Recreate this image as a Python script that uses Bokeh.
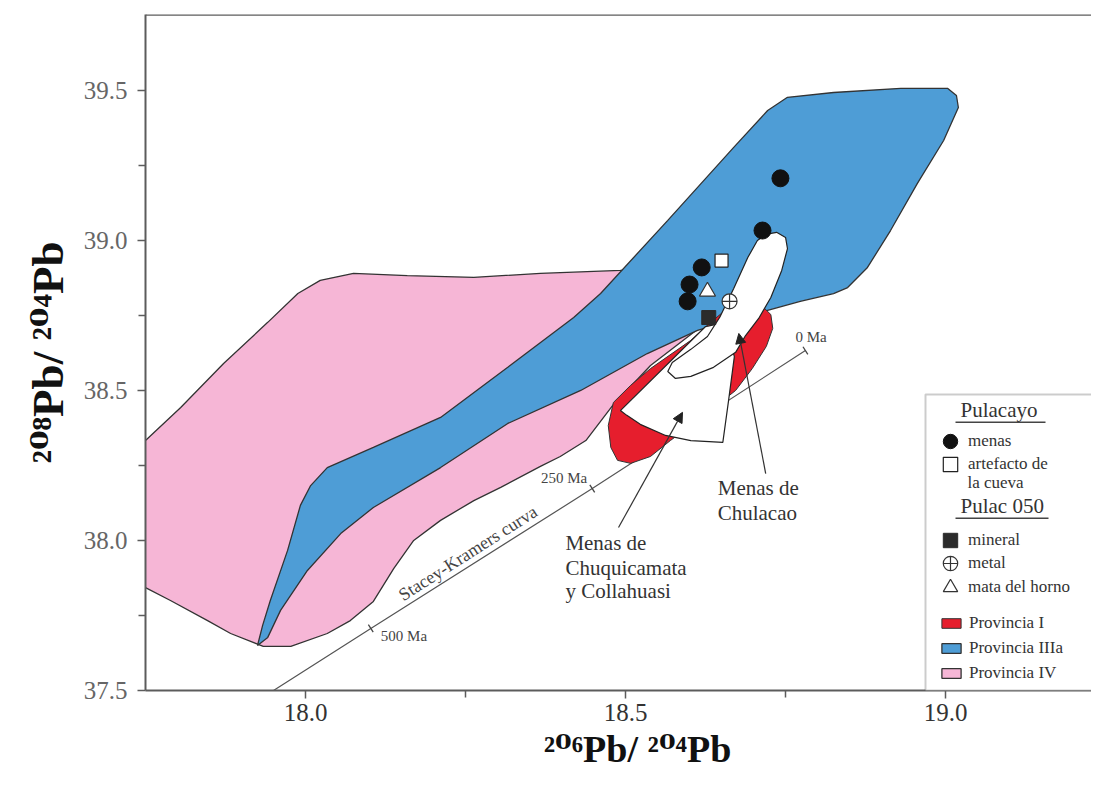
import math
from bokeh.plotting import figure
from bokeh.models import (Range1d, FixedTicker, NumeralTickFormatter, Label, Legend,
                          LegendItem, BoxAnnotation, Arrow, NormalHead, Span)
from bokeh.embed import file_html
from bokeh.resources import INLINE

# ---------------- data ----------------
X_RANGE = (17.75, 19.228)
Y_RANGE = (37.5, 39.753)
X_TICKS = [18.0, 18.5, 19.0]
X_MINOR = [18.25, 18.75]
Y_TICKS = [37.5, 38.0, 38.5, 39.0, 39.5]
Y_MINOR = [37.75, 38.25, 38.75, 39.25]
X_TITLE = "²⁰⁶Pb/ ²⁰⁴Pb"
Y_TITLE = "²⁰⁸Pb/ ²⁰⁴Pb"

# Provincia IV (pink field)
PROV_IV_X = [17.727, 17.750, 17.805, 17.872, 17.941, 17.988, 18.023, 18.075, 18.159, 18.263,
             18.367, 18.492, 18.555, 18.625, 18.606, 18.539, 18.480, 18.438, 18.398, 18.367,
             18.305, 18.263, 18.211, 18.169, 18.138, 18.106, 18.070, 18.034, 17.977, 17.934,
             17.883, 17.847, 17.789, 17.750, 17.727]
PROV_IV_Y = [38.293, 38.333, 38.443, 38.590, 38.727, 38.823, 38.867, 38.890, 38.883, 38.877,
             38.890, 38.900, 38.907, 38.727, 38.693, 38.583, 38.450, 38.333, 38.280, 38.247,
             38.177, 38.133, 38.067, 38.000, 37.907, 37.797, 37.733, 37.690, 37.647, 37.647,
             37.690, 37.733, 37.800, 37.843, 37.867]

# Provincia IIIa (blue field)
PROV_IIIA_X = [17.925, 17.933, 17.945, 17.972, 17.992, 18.008, 18.034, 18.106, 18.211, 18.316,
               18.419, 18.461, 18.566, 18.669, 18.722, 18.753, 18.825, 18.930, 19.003, 19.017,
               19.020, 18.997, 18.956, 18.914, 18.878, 18.847, 18.825, 18.773, 18.722, 18.664,
               18.6125, 18.534, 18.430, 18.316, 18.211, 18.106, 18.055, 18.003, 17.961, 17.941]
PROV_IIIA_Y = [37.650, 37.717, 37.800, 37.967, 38.117, 38.183, 38.243, 38.310, 38.410, 38.577,
               38.743, 38.823, 39.067, 39.310, 39.433, 39.477, 39.493, 39.507, 39.507, 39.483,
               39.443, 39.333, 39.190, 39.033, 38.910, 38.843, 38.823, 38.797, 38.767, 38.733,
               38.700, 38.623, 38.500, 38.390, 38.243, 38.110, 38.023, 37.900, 37.767, 37.677]

# Provincia I (red field)
PROV_I_X = [18.6875, 18.714, 18.727, 18.730, 18.720, 18.698, 18.672, 18.617, 18.570, 18.539,
            18.508, 18.4875, 18.477, 18.473, 18.481, 18.508, 18.539, 18.602, 18.633, 18.659]
PROV_I_Y = [38.790, 38.780, 38.753, 38.707, 38.647, 38.573, 38.500, 38.407, 38.333, 38.280,
            38.257, 38.267, 38.310, 38.383, 38.460, 38.517, 38.573, 38.667, 38.727, 38.773]

# Menas de Chuquicamata y Collahuasi (white field)
CHUQ_X = [18.492, 18.625, 18.656, 18.670, 18.661, 18.652, 18.602, 18.5625, 18.523, 18.502]
CHUQ_Y = [38.433, 38.713, 38.727, 38.613, 38.467, 38.327, 38.333, 38.350, 38.387, 38.417]

# Menas de Chulacao (white field)
CHUL_X = [18.706, 18.719, 18.736, 18.750, 18.753, 18.744, 18.727, 18.708, 18.6875, 18.672,
          18.6375, 18.602, 18.578, 18.566, 18.573, 18.602, 18.628, 18.648, 18.669, 18.691]
CHUL_Y = [39.000, 39.020, 39.027, 39.010, 38.973, 38.900, 38.810, 38.740, 38.683, 38.627,
          38.577, 38.547, 38.540, 38.563, 38.593, 38.637, 38.680, 38.747, 38.840, 38.943]

# Stacey-Kramers curve (start at axis, then 500, 250, 0 Ma)
SK_X = [17.950, 18.102, 18.448, 18.781]
SK_Y = [37.500, 37.707, 38.173, 38.633]
SK_AGE_X = [18.102, 18.448, 18.781]
SK_AGE_Y = [37.707, 38.173, 38.633]
SK_AGE_LABELS = ["500 Ma", "250 Ma", "0 Ma"]

# Pulacayo samples
MENAS_X = [18.742, 18.714, 18.619, 18.600, 18.597]
MENAS_Y = [39.207, 39.033, 38.910, 38.853, 38.797]
ARTEFACTO_X = [18.650]
ARTEFACTO_Y = [38.933]
# Pulac 050 samples
MINERAL_X = [18.630]
MINERAL_Y = [38.743]
METAL_X = [18.6625]
METAL_Y = [38.797]
MATA_X = [18.628]
MATA_Y = [38.830]

# annotation arrows (start x, start y, end x, end y)
ARROW_CHUQ = (18.489, 38.043, 18.589, 38.427)
ARROW_CHUL = (18.719, 38.223, 18.677, 38.690)
CHUQ_TEXT = ["Menas de", "Chuquicamata", "y Collahuasi"]
CHUQ_TEXT_X = 18.406
CHUQ_TEXT_Y = [37.967, 37.883, 37.807]
CHUL_TEXT = ["Menas de", "Chulacao"]
CHUL_TEXT_X = 18.644
CHUL_TEXT_Y = [38.150, 38.067]
SK_TEXT_X = 18.263

# ---------------- layout ----------------
W, H = 1091, 782
BL, BR, BT, BB = 145, 0, 14, 92
FRAME_W = W - BL - BR
FRAME_H = H - BT - BB
PPU_X = FRAME_W / (X_RANGE[1] - X_RANGE[0])
PPU_Y = FRAME_H / (Y_RANGE[1] - Y_RANGE[0])

SERIF = "Liberation Serif"
TITLE_FONT = "Liberation Serif, DejaVu Serif"
AXC = "#5c5c5c"
TXT = "#333333"
LIFT = 0.37  # label baseline correction, in em

p = figure(width=W, height=H, output_backend="svg", toolbar_location=None,
           x_range=Range1d(*X_RANGE), y_range=Range1d(*Y_RANGE),
           min_border_left=BL, min_border_right=BR, min_border_top=BT, min_border_bottom=BB,
           background_fill_color="white", border_fill_color="white", outline_line_color=None)
p.grid.visible = False

p.xaxis.ticker = FixedTicker(ticks=X_TICKS, minor_ticks=X_MINOR)
p.yaxis.ticker = FixedTicker(ticks=Y_TICKS, minor_ticks=Y_MINOR)
p.xaxis.formatter = NumeralTickFormatter(format="0.0")
p.yaxis.formatter = NumeralTickFormatter(format="0.0")
for ax in (p.xaxis[0], p.yaxis[0]):
    ax.axis_line_color = AXC
    ax.axis_line_width = 2
    ax.major_tick_line_color = AXC
    ax.minor_tick_line_color = AXC
    ax.major_tick_line_width = 1.5
    ax.minor_tick_line_width = 1.5
    ax.major_tick_in = 0
    ax.major_tick_out = 8
    ax.minor_tick_in = 0
    ax.minor_tick_out = 7
    ax.major_label_text_font = SERIF
    ax.major_label_text_font_size = "25px"
    ax.axis_label_text_font = TITLE_FONT
    ax.axis_label_text_font_style = "bold"
    ax.axis_label_text_color = "#111111"
p.xaxis.major_label_text_color = "#333333"
p.yaxis.major_label_text_color = "#666666"
p.xaxis.major_label_standoff = 5
p.yaxis.major_label_standoff = 10
p.xaxis.axis_label = "\u00a0\u00a0\u00a0\u00a0" + X_TITLE
p.yaxis.axis_label = Y_TITLE
p.xaxis.axis_label_text_font_size = "38px"
p.yaxis.axis_label_text_font_size = "45px"
p.xaxis.axis_label_standoff = 4
p.yaxis.axis_label_standoff = 8

p.add_layout(Span(location=Y_RANGE[1], dimension="width", line_color=AXC, line_width=2.5))

# Stacey-Kramers curve
p.line(SK_X, SK_Y, line_color="#555555", line_width=1.2)

OUT = "#333333"
r_iv = p.patch(PROV_IV_X, PROV_IV_Y, fill_color="#f6b6d6", line_color=OUT, line_width=1.3)
r_iiia = p.patch(PROV_IIIA_X, PROV_IIIA_Y, fill_color="#4e9dd6", line_color=OUT, line_width=1.3)
r_i = p.patch(PROV_I_X, PROV_I_Y, fill_color="#e61e2d", line_color=OUT, line_width=1.0)
p.patch(CHUQ_X, CHUQ_Y, fill_color="white", line_color="#222222", line_width=1.2)
p.patch(CHUL_X, CHUL_Y, fill_color="white", line_color="#222222", line_width=1.2)

sk_ang = math.atan2((SK_Y[-1] - SK_Y[0]) * PPU_Y, (SK_X[-1] - SK_X[0]) * PPU_X)
p.scatter(SK_AGE_X, SK_AGE_Y, marker="dash", size=9, angle=sk_ang + math.pi / 2,
          line_color="#444444", line_width=1.3)

# samples
r_menas = p.scatter(MENAS_X, MENAS_Y, marker="circle", size=17, fill_color="#111111", line_color="#111111")
r_art = p.scatter(ARTEFACTO_X, ARTEFACTO_Y, marker="square", size=13, fill_color="white",
                  line_color="#222222", line_width=1.2)
r_min = p.scatter(MINERAL_X, MINERAL_Y, marker="square", size=14, fill_color="#2b2b2b", line_color="#2b2b2b")
r_metal = p.scatter(METAL_X, METAL_Y, marker="circle_cross", size=15, fill_color="white",
                    line_color="#333333", line_width=1.2)
r_mata = p.scatter(MATA_X, MATA_Y, marker="triangle", size=16, fill_color="white",
                   line_color="#333333", line_width=1.2)

# arrows
for (xs, ys, xe, ye) in (ARROW_CHUQ, ARROW_CHUL):
    p.add_layout(Arrow(end=NormalHead(size=10, fill_color="#222222", line_color="#222222", line_width=1),
                       x_start=xs, y_start=ys, x_end=xe, y_end=ye,
                       line_color="#333333", line_width=1.2))

for t, yy in zip(CHUQ_TEXT, CHUQ_TEXT_Y):
    p.add_layout(Label(x=CHUQ_TEXT_X, y=yy, y_offset=LIFT * 21, text=t, text_font=SERIF,
                       text_font_size="21px", text_color=TXT, text_align="left",
                       text_baseline="alphabetic"))
for t, yy in zip(CHUL_TEXT, CHUL_TEXT_Y):
    p.add_layout(Label(x=CHUL_TEXT_X, y=yy, y_offset=LIFT * 21, text=t, text_font=SERIF,
                       text_font_size="21px", text_color=TXT, text_align="left",
                       text_baseline="alphabetic"))

# Stacey-Kramers labels
sk_slope = (SK_Y[-1] - SK_Y[0]) / (SK_X[-1] - SK_X[0])
sk_text_y = SK_Y[0] + (SK_TEXT_X - SK_X[0]) * sk_slope
perp = 11
p.add_layout(Label(x=SK_TEXT_X, y=sk_text_y, text="Stacey-Kramers curva", angle=sk_ang,
                   x_offset=-perp * math.sin(sk_ang), y_offset=perp * math.cos(sk_ang),
                   text_font=SERIF, text_font_size="18px", text_color="#444444",
                   text_align="center", text_baseline="alphabetic"))
age_offsets = [(10, -13, "left"), (-5, 5, "right"), (-10, 8, "left")]
for (ax_, ay_), lab, (dx, dy, al) in zip(zip(SK_AGE_X, SK_AGE_Y), SK_AGE_LABELS, age_offsets):
    p.add_layout(Label(x=ax_, y=ay_, text=lab, x_offset=dx, y_offset=dy + LIFT * 15,
                       text_font=SERIF, text_font_size="15px", text_color="#444444",
                       text_align=al, text_baseline="alphabetic"))

# ---------------- legend ----------------
p.add_layout(BoxAnnotation(left=780, right=1000, bottom=0, top=296,
                           left_units="screen", right_units="screen",
                           bottom_units="screen", top_units="screen",
                           fill_color="white", fill_alpha=1.0, line_color="#555555", line_width=2))

def header(text, y, x0, x1):
    p.add_layout(Label(x=815, y=y + LIFT * 21, x_units="screen", y_units="screen", text=text,
                       text_font=SERIF, text_font_size="21px", text_color=TXT,
                       text_align="left", text_baseline="alphabetic"))
    p.add_layout(BoxAnnotation(left=x0, right=x1, bottom=y - 5.5, top=y - 4,
                               left_units="screen", right_units="screen",
                               bottom_units="screen", top_units="screen",
                               fill_color="#444444", fill_alpha=1.0, line_color=None))

header("Pulacayo", 273, 810, 900)
header("Pulac 050", 177, 810, 903)

leg_common = dict(border_line_color=None, background_fill_alpha=0.0, padding=0, margin=0,
                  label_text_font=SERIF, label_text_font_size="17px", label_text_color=TXT)

# one legend per marker entry so each row sits where the reference puts it
marker_entries = [("menas", r_menas, 231), ("artefacto de", r_art, 208),
                  ("mineral", r_min, 132), ("metal", r_metal, 109), ("mata del horno", r_mata, 85)]
for lab, rend, yloc in marker_entries:
    p.add_layout(Legend(items=[LegendItem(label=lab, renderers=[rend])],
                        location=(787, yloc), glyph_width=36, glyph_height=36,
                        label_standoff=0, **leg_common))
p.add_layout(Label(x=822, y=202 + LIFT * 17, x_units="screen", y_units="screen", text="la cueva",
                   text_font=SERIF, text_font_size="17px", text_color=TXT,
                   text_align="left", text_baseline="alphabetic"))

leg3 = Legend(items=[LegendItem(label="Provincia I", renderers=[r_i]),
                     LegendItem(label="Provincia IIIa", renderers=[r_iiia]),
                     LegendItem(label="Provincia IV", renderers=[r_iv])],
              location=(794, 7), glyph_width=24, glyph_height=12, spacing=5,
              label_standoff=6, label_height=20, **leg_common)
p.add_layout(leg3)

open("out.html", "w").write(file_html(p, INLINE))
